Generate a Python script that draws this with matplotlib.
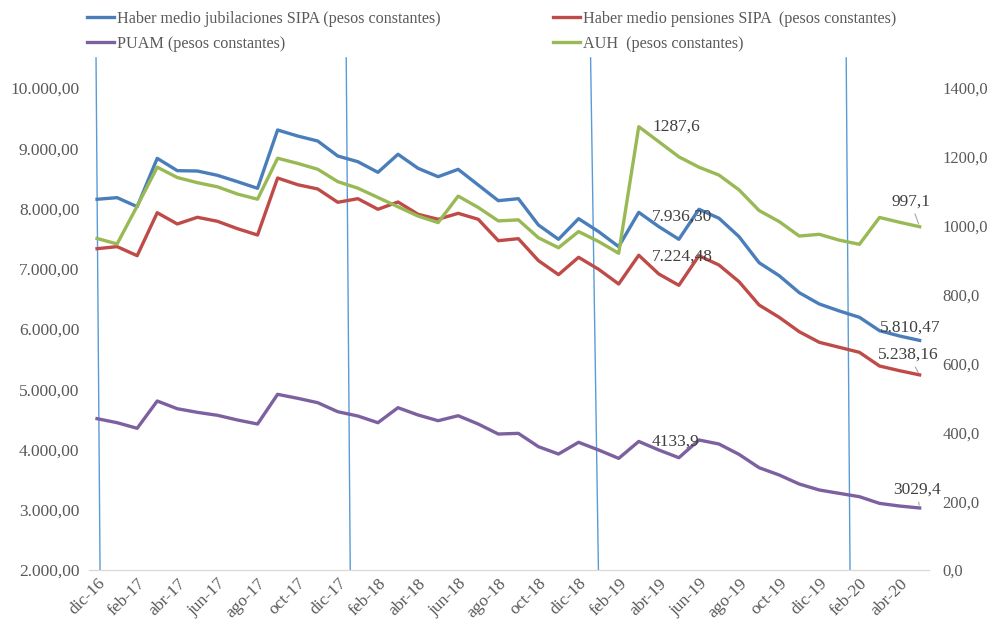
import matplotlib
matplotlib.use("Agg")
import matplotlib.pyplot as plt
from matplotlib.ticker import FuncFormatter, MultipleLocator

# meses dic-16 .. may-20
meses = ["dic-16",
         "ene-17", "feb-17", "mar-17", "abr-17", "may-17", "jun-17",
         "jul-17", "ago-17", "sep-17", "oct-17", "nov-17", "dic-17",
         "ene-18", "feb-18", "mar-18", "abr-18", "may-18", "jun-18",
         "jul-18", "ago-18", "sep-18", "oct-18", "nov-18", "dic-18",
         "ene-19", "feb-19", "mar-19", "abr-19", "may-19", "jun-19",
         "jul-19", "ago-19", "sep-19", "oct-19", "nov-19", "dic-19",
         "ene-20", "feb-20", "mar-20", "abr-20", "may-20"]

jubilaciones = [8153, 8180, 8030, 8833, 8628, 8622, 8551, 8445, 8335, 9303,
                9203, 9120, 8871, 8777, 8600, 8900, 8667, 8528, 8650, 8390,
                8130, 8163, 7726, 7489, 7831, 7616, 7367, 7936.30, 7699, 7489,
                7987, 7838, 7532, 7100, 6885, 6603, 6415, 6299, 6194, 5972,
                5884, 5810.47]

pensiones = [7333, 7367, 7217, 7930, 7743, 7854, 7788, 7665, 7560, 8506,
             8395, 8324, 8103, 8163, 7987, 8108, 7904, 7821, 7920, 7821,
             7466, 7499, 7135, 6902, 7190, 6991, 6747, 7224.48, 6913, 6725,
             7217, 7062, 6785, 6398, 6194, 5955, 5779, 5696, 5613, 5386,
             5308, 5238.16]

puam = [4512, 4445, 4352, 4805, 4677, 4617, 4568, 4490, 4423, 4916,
        4850, 4777, 4627, 4556, 4445, 4694, 4573, 4478, 4561, 4423,
        4257, 4268, 4047, 3925, 4120, 3992, 3853, 4133.9, 3992, 3864,
        4158, 4091, 3919, 3698, 3577, 3427, 3328, 3272, 3217, 3106,
        3062, 3029.4]

auh = [963, 947, 1057, 1170, 1140, 1125, 1113, 1092, 1077, 1196,
       1181, 1164, 1128, 1109, 1082, 1055, 1028, 1009, 1086, 1053,
       1014, 1017, 965, 936, 983, 954, 920, 1287.6, 1244, 1200,
       1170, 1147, 1104, 1044, 1012, 970, 975, 958, 946, 1024,
       1010, 997.1]

# lineas verticales (x arriba, x abajo) en posicion de mes
cortes = [(-0.05, 0.15), (12.42, 12.62), (24.6, 24.99), (37.34, 37.53)]

c_jub = "#4A7EBB"
c_pen = "#BE4B48"
c_puam = "#7D60A0"
c_auh = "#98B954"
gris = "#595959"
fuente = "Liberation Serif"

plt.rcParams["font.family"] = fuente

fig = plt.figure(figsize=(9.89, 6.21), dpi=100)
ax = fig.add_axes([0.090, 0.0821, 0.849, 0.7762])
ax2 = ax.twinx()

x = list(range(len(meses)))
lw = 2.4
l1, = ax.plot(x, jubilaciones, color=c_jub, lw=lw, zorder=3)
l2, = ax.plot(x, pensiones, color=c_pen, lw=lw, zorder=3)
l3, = ax.plot(x, puam, color=c_puam, lw=lw, zorder=3)
l4, = ax2.plot(x, auh, color=c_auh, lw=lw, zorder=3)

ax.set_ylim(2000, 10000)
ax2.set_ylim(0, 1400)
ax.set_xlim(-0.4, 41.45)

ax.yaxis.set_major_locator(MultipleLocator(1000))
ax2.yaxis.set_major_locator(MultipleLocator(200))
ax.yaxis.set_major_formatter(FuncFormatter(
    lambda v, p: f"{v:,.2f}".replace(",", "X").replace(".", ",").replace("X", ".")))
ax2.yaxis.set_major_formatter(FuncFormatter(lambda v, p: f"{v:.1f}".replace(".", ",")))

ax.set_xticks(x[::2])
ax.set_xticklabels(meses[::2], rotation=45, ha="right", rotation_mode="anchor")

for a in (ax, ax2):
    for s in ("top", "left", "right"):
        a.spines[s].set_visible(False)
    a.spines["bottom"].set_color("#D9D9D9")
    a.tick_params(length=0, labelsize=12.5, colors=gris)
ax.tick_params(axis="y", pad=7)
ax2.tick_params(axis="y", pad=10, labelsize=12)
ax.tick_params(axis="x", pad=4)

# lineas verticales
for xa, xb in cortes:
    ax.plot([xa, xb], [10500, 2000], color="#5B9BD5", lw=1.0, zorder=2, clip_on=False)

# etiquetas de datos
txt = dict(fontsize=12.5, color="#404040", family=fuente)
i = 27
ax2.annotate("1287,6", (i, auh[i]), xytext=(14, 0), textcoords="offset pixels",
             ha="left", va="center", **txt)
ax.annotate("7.936,30", (i, jubilaciones[i]), xytext=(13, -4), textcoords="offset pixels",
            ha="left", va="center", **txt)
ax.annotate("7.224,48", (i, pensiones[i]), xytext=(13, -1), textcoords="offset pixels",
            ha="left", va="center", **txt)
ax.annotate("4133,9", (i, puam[i]), xytext=(13, 0), textcoords="offset pixels",
            ha="left", va="center", **txt)

j = len(meses) - 1
flecha = dict(arrowstyle="-", color="#A6A6A6", lw=0.8, shrinkA=1, shrinkB=2)
ax2.annotate("997,1", (j, auh[j]), xytext=(-9, 25), textcoords="offset pixels",
             ha="center", va="center", arrowprops=flecha, **txt)
ax.annotate("5.810,47", (j, jubilaciones[j]), xytext=(-9, 13), textcoords="offset pixels",
            ha="center", va="center", **txt)
ax.annotate("5.238,16", (j, pensiones[j]), xytext=(-11, 20), textcoords="offset pixels",
            ha="center", va="center", arrowprops=flecha, **txt)
ax.annotate("3029,4", (j, puam[j]), xytext=(-3, 18), textcoords="offset pixels",
            ha="center", va="center", arrowprops=flecha, **txt)

# leyenda en dos bloques
leg_kw = dict(frameon=False, fontsize=11.6, handlelength=1.65, handletextpad=0.2,
              labelspacing=0.55, borderaxespad=0, borderpad=0, labelcolor=gris)
leg1 = fig.legend([l1, l3], ["Haber medio jubilaciones SIPA (pesos constantes)",
                             "PUAM (pesos constantes)"],
                  loc="upper left", bbox_to_anchor=(87 / 989, 1 - 11 / 621), **leg_kw)
leg2 = fig.legend([l2, l4], ["Haber medio pensiones SIPA  (pesos constantes)",
                             "AUH  (pesos constantes)"],
                  loc="upper left", bbox_to_anchor=(553 / 989, 1 - 11 / 621), **leg_kw)

fig.savefig("out.png", dpi=100)
